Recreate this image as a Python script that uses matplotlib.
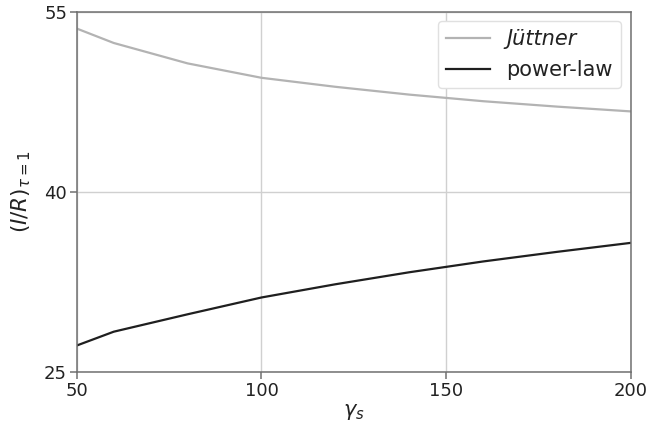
import numpy as np
import matplotlib.pyplot as plt

# values
gamma_s = [50, 60, 80, 100, 120, 140, 160, 180, 200]
juttner = [53.6, 52.4, 50.7, 49.5, 48.75, 48.1, 47.55, 47.1, 46.7]
power_law = [27.2, 28.35, 29.8, 31.2, 32.3, 33.3, 34.2, 35.0, 35.75]

xticks = [50, 100, 150, 200]
yticks = [25, 40, 55]

plt.rcParams['font.family'] = 'DejaVu Sans'
plt.rcParams['mathtext.fontset'] = 'dejavusans'

fig = plt.figure(figsize=(6.51, 4.36), dpi=100)
ax = fig.add_axes([0.118, 0.147, 0.851, 0.826])

ax.plot(gamma_s, juttner, color='#b3b3b3', lw=1.6, label='Jüttner')
ax.plot(gamma_s, power_law, color='#1f1f1f', lw=1.6, label='power-law')

ax.set_xlim(50, 200)
ax.set_ylim(25, 55)
ax.set_xticks(xticks)
ax.set_yticks(yticks)
ax.grid(True, color='#d0d0d0', lw=1.0)
ax.set_axisbelow(True)

for s in ax.spines.values():
    s.set_color('#707070')
    s.set_linewidth(1.1)
ax.tick_params(direction='out', length=5, width=1.1, color='#707070',
               labelsize=13, labelcolor='#222222', pad=2)

ax.set_xlabel(r'$\gamma_s$', fontsize=15, color='#222222', labelpad=2)
ax.set_ylabel(r'$(I/R)_{\tau=1}$', fontsize=15.5, color='#222222', labelpad=8)

leg = ax.legend(loc='upper right', fontsize=15, framealpha=1,
                edgecolor='#e0e0e0', borderpad=0.4, labelspacing=0.5,
                handlelength=2.1, handletextpad=0.8, borderaxespad=0.45)
leg.get_texts()[0].set_style('italic')
for t in leg.get_texts():
    t.set_color('#222222')

fig.savefig('out.png', dpi=100)
